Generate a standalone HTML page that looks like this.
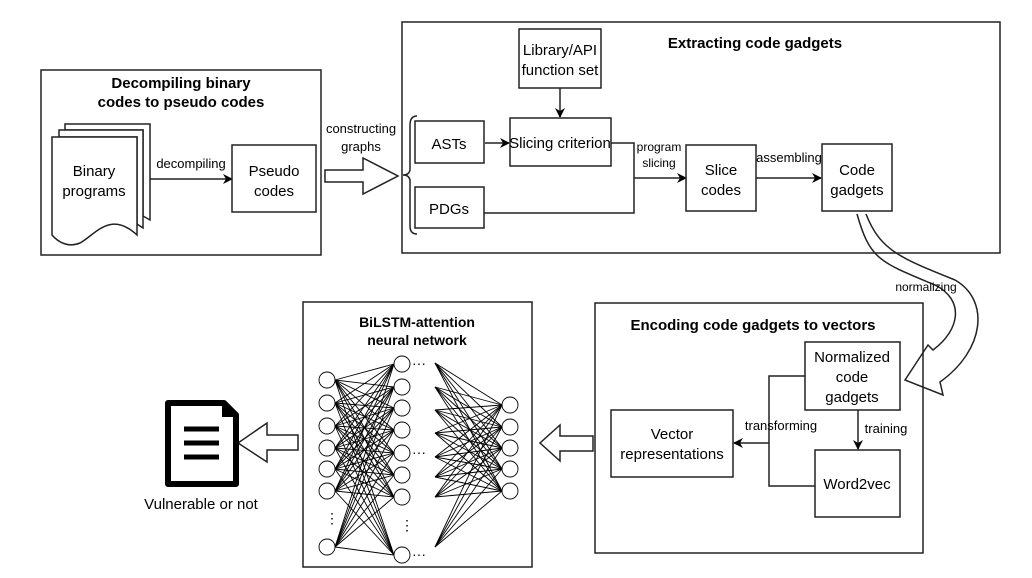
<!DOCTYPE html>
<html><head><meta charset="utf-8"><style>
body{margin:0;background:#fff;}
svg{display:block;font-family:"Liberation Sans",Arial,sans-serif;}
</style></head><body>
<svg width="1032" height="578" viewBox="0 0 1032 578" xmlns="http://www.w3.org/2000/svg">
<defs>
<marker id="a" markerWidth="10" markerHeight="10" refX="9" refY="5" orient="auto" markerUnits="userSpaceOnUse"><path d="M0,0 L10,5 L0,10 L3,5 Z" fill="#000"/></marker>
</defs>
<g fill="none" stroke="#222" stroke-width="1.5">
<!-- Box1 -->
<rect x="41" y="70" width="280" height="185"/>
<path d="M65,124 H150 V220 L143,216 V130 H65 Z" fill="#fff"/>
<path d="M59,130 H143 V228 L137,224 V137 H59 Z" fill="#fff"/>
<path d="M52,137 H137 V235 C110,210 95,235 80,243 C68,248 58,242 52,235 Z" fill="#fff"/>
<line x1="150" y1="179" x2="232" y2="179" marker-end="url(#a)"/>
<rect x="232" y="145" width="84" height="67"/>
<path d="M325,170 H363 V158 L398,176 L363,194 V182 H325 Z"/>
<path d="M417,116 Q410,116 410,125 V170 Q409,175 403,175 Q409,175 410,180 V226 Q410,234 417,234"/>
<!-- Box2 -->
<rect x="402" y="22" width="598" height="231"/>
<rect x="519" y="29" width="82" height="59"/>
<line x1="560" y1="88" x2="560" y2="117" marker-end="url(#a)"/>
<rect x="415" y="121" width="69" height="42"/>
<line x1="485" y1="143" x2="509" y2="143" marker-end="url(#a)"/>
<rect x="510" y="118" width="101" height="48"/>
<polyline points="611,143 634,143 634,213 484,213"/>
<line x1="634" y1="178" x2="686" y2="178" marker-end="url(#a)"/>
<rect x="415" y="187" width="69" height="41"/>
<rect x="686" y="145" width="70" height="66"/>
<line x1="756" y1="178" x2="821" y2="178" marker-end="url(#a)"/>
<rect x="822" y="144" width="70" height="67"/>
<!-- curved hollow arrow -->
<path d="M857,214 C870,260 880,262 935,285 C965,300 960,330 933,350 L928,345 L905,380 L943,395 L940,382 C985,350 990,300 955,280 C900,258 880,250 866,214"/>
<!-- Box3 -->
<rect x="595" y="303" width="328" height="250"/>
<rect x="805" y="342" width="95" height="68"/>
<rect x="611" y="410" width="122" height="67"/>
<rect x="815" y="450" width="85" height="67"/>
<polyline points="805,376 769,376 769,486 815,486"/>
<line x1="769" y1="443" x2="734" y2="443" marker-end="url(#a)"/>
<line x1="858" y1="410" x2="858" y2="449" marker-end="url(#a)"/>
<path d="M593,436 H560 V425 L540,443 L560,461 V451 H593 Z"/>
<!-- Box4 -->
<rect x="303" y="302" width="229" height="265"/>
<path d="M298,435 H267 V423 L238,443 L267,462 V450 H298 Z"/>
</g>
<!-- doc icon -->
<path d="M168,403 H224 L236,415 V484 H168 Z" fill="none" stroke="#000" stroke-width="6" stroke-linejoin="round"/>
<path d="M222,401 L238,417 L222,417 Z" fill="#000"/>
<g stroke="#000" stroke-width="5"><line x1="184" y1="429" x2="219" y2="429"/><line x1="184" y1="443" x2="219" y2="443"/><line x1="184" y1="457" x2="219" y2="457"/></g>
<!-- network -->
<g id="net" stroke="#000" stroke-width="0.9">
<g id="L1"></g>
</g>
<g fill="#000" font-size="15" text-anchor="middle">
<text x="181" y="88" font-weight="bold">Decompiling binary</text>
<text x="181" y="107" font-weight="bold">codes to pseudo codes</text>
<text x="94" y="176">Binary</text><text x="94" y="196">programs</text>
<text x="191" y="168" font-size="13">decompiling</text>
<text x="274" y="176">Pseudo</text><text x="274" y="196">codes</text>
<text x="361" y="133" font-size="13">constructing</text><text x="361" y="151" font-size="13">graphs</text>
<text x="755" y="48" font-weight="bold">Extracting  code gadgets</text>
<text x="560" y="55">Library/API</text><text x="560" y="75">function set</text>
<text x="449" y="149">ASTs</text><text x="449" y="214">PDGs</text>
<text x="560" y="148">Slicing criterion</text>
<text x="659" y="151" font-size="12">program</text><text x="659" y="167" font-size="12">slicing</text>
<text x="721" y="175">Slice</text><text x="721" y="195">codes</text>
<text x="789" y="162" font-size="13">assembling</text>
<text x="857" y="175">Code</text><text x="857" y="195">gadgets</text>
<text x="926" y="291" font-size="12">normalizing</text>
<text x="753" y="330" font-weight="bold">Encoding code gadgets to vectors</text>
<text x="852" y="362">Normalized</text><text x="852" y="382">code</text><text x="852" y="402">gadgets</text>
<text x="672" y="439">Vector</text><text x="672" y="459">representations</text>
<text x="781" y="430" font-size="13">transforming</text>
<text x="886" y="433" font-size="13">training</text>
<text x="857" y="489">Word2vec</text>
<text x="417" y="327" font-weight="bold" font-size="14">BiLSTM-attention</text>
<text x="417" y="345" font-weight="bold" font-size="14">neural network</text>
<text x="201" y="509">Vulnerable or not</text>
</g>
<script>
(function(){
var ns="http://www.w3.org/2000/svg",g=document.getElementById("net");
function el(t,a){var e=document.createElementNS(ns,t);for(var k in a)e.setAttribute(k,a[k]);g.appendChild(e);return e;}
var L=[380,403,426,448,469,491,547],M=[364,387,408,430,453,475,497,555],S=[363,387,410,433,457,477,497,547],R=[405,427,448,469,491];
L.forEach(function(a){M.forEach(function(b){el("line",{x1:335,y1:a,x2:394,y2:b});});});
S.forEach(function(a){R.forEach(function(b){el("line",{x1:435,y1:a,x2:502,y2:b});});});
L.forEach(function(y){el("circle",{cx:327,cy:y,r:8,fill:"#fff"});});
M.forEach(function(y){el("circle",{cx:402,cy:y,r:8,fill:"#fff"});});
R.forEach(function(y){el("circle",{cx:510,cy:y,r:8,fill:"#fff"});});
[364,453,555].forEach(function(y){var t=el("text",{x:412,y:y+4,"font-size":"14",stroke:"none"});t.textContent="···";});
[[327,523],[402,530]].forEach(function(p){var t=el("text",{x:p[0]-2,y:p[1],"font-size":"14",stroke:"none"});t.textContent="⋮";});
})();
</script>
</svg>
</body></html>
